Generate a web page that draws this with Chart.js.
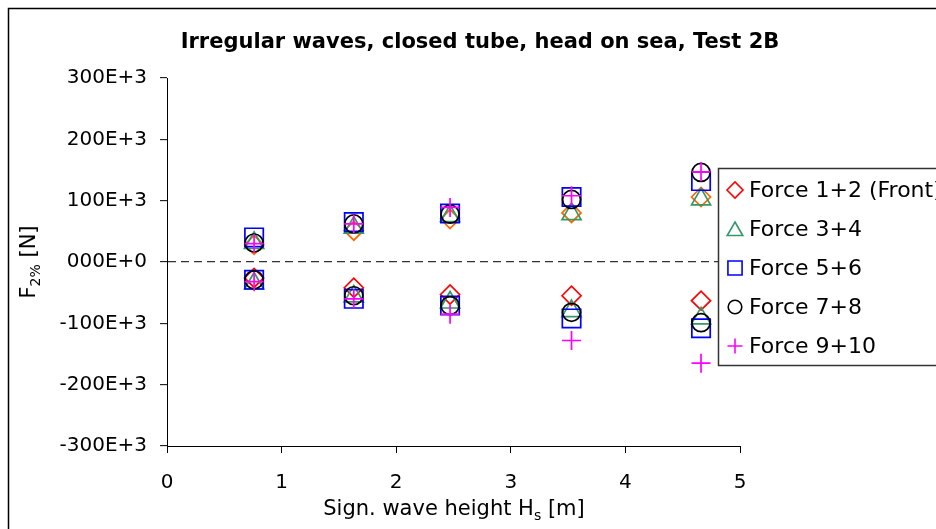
<!DOCTYPE html>
<html>
<head>
<meta charset="utf-8">
<title>Irregular waves, closed tube, head on sea, Test 2B</title>
<script src="https://cdn.jsdelivr.net/npm/chart.js@4.4.0/dist/chart.umd.min.js"></script>
<style>
  html, body { margin: 0; padding: 0; background: #fff; }
  #wrap { width: 936px; height: 529px; }
</style>
</head>
<body>
<div id="wrap"><canvas id="forceChart" width="936" height="529"></canvas></div>
<script>
// significant wave height Hs [m] of each run
var waveHeight = [0.76, 1.63, 2.47, 3.53, 4.66];

// F2% per force pair [N], upper and lower peaks
var force12Pos = [28e3, 51e3, 70e3, 80e3, 106e3];
var force12Neg = [-26e3, -42e3, -53e3, -55e3, -63e3];
var force34Pos = [31e3, 56e3, 75e3, 78e3, 102e3];
var force34Neg = [-35e3, -56e3, -66e3, -80e3, -92e3];
var force56Pos = [40e3, 65e3, 79e3, 106e3, 132e3];
var force56Neg = [-29e3, -60e3, -71e3, -92e3, -108e3];
var force78Pos = [31e3, 62e3, 78e3, 102e3, 146e3];
var force78Neg = [-29e3, -55e3, -71e3, -82e3, -99e3];
var force910Pos = [30e3, 62e3, 89e3, 108e3, 147e3];
var force910Neg = [-32e3, -60e3, -85e3, -128e3, -165e3];

var seriesNames = ['Force 1+2 (Front)', 'Force 3+4', 'Force 5+6', 'Force 7+8', 'Force 9+10'];
var yTickText = ['-300E+3', '-200E+3', '-100E+3', '000E+0', '100E+3', '200E+3', '300E+3'];

var FONT = '"DejaVu Sans", "Liberation Sans", Arial, sans-serif';

// marker look per force pair
var markers = [
    { style: 'rectRot', color: '#FF0000', upColor: '#FF6600', radius: 9.5, legendRadius: 8 },
    { style: 'triangle', color: '#339966', upColor: '#339966', radius: 11, legendRadius: 9 },
    { style: 'rect', color: '#0000FF', upColor: '#0000FF', radius: 13, legendRadius: 10 },
    { style: 'circle', color: '#000000', upColor: '#000000', radius: 9, legendRadius: 6.8 },
    { style: 'cross', color: '#FF00FF', upColor: '#FF00FF', radius: 9.5, legendRadius: 7.5 }
];

function toPoints(values) {
    return values.map(function (v, i) { return { x: waveHeight[i], y: v }; });
}

var pairs = [
    [force12Pos, force12Neg],
    [force34Pos, force34Neg],
    [force56Pos, force56Neg],
    [force78Pos, force78Neg],
    [force910Pos, force910Neg]
];

var datasets = [];
pairs.forEach(function (p, k) {
    var m = markers[k];
    [[p[0], m.upColor], [p[1], m.color]].forEach(function (s) {
        datasets.push({
            label: seriesNames[k],
            data: toPoints(s[0]),
            showLine: false,
            pointStyle: m.style,
            pointRadius: m.radius,
            pointHoverRadius: m.radius,
            pointBorderWidth: 1.7,
            pointBorderColor: s[1],
            pointBackgroundColor: 'rgba(0,0,0,0)',
            order: 10 - k
        });
    });
});

// frame, title, axis titles with subscripts and the boxed legend
var decorations = {
    id: 'decorations',
    afterDraw: function (chart) {
        var ctx = chart.ctx;
        ctx.save();

        ctx.strokeStyle = '#000';
        ctx.lineWidth = 1.5;
        ctx.strokeRect(8.5, 8.5, 1200, 1200);

        ctx.fillStyle = '#000';
        ctx.textBaseline = 'alphabetic';
        ctx.textAlign = 'center';
        ctx.font = 'bold 21px ' + FONT;
        ctx.fillText('Irregular waves, closed tube, head on sea, Test 2B', 480, 48);

        // x axis title: Sign. wave height Hs [m]
        drawSub(ctx, 'Sign. wave height H', 's', ' [m]', 454, 515, 21);

        // y axis title: F2% [N]
        ctx.save();
        ctx.translate(35, 262);
        ctx.rotate(-Math.PI / 2);
        drawSub(ctx, 'F', '2%', ' [N]', 0, 0, 21);
        ctx.restore();

        // legend box
        var lx = 718.5, ly = 168.5;
        ctx.fillStyle = '#fff';
        ctx.fillRect(lx, ly, 300, 197);
        ctx.strokeStyle = '#333';
        ctx.lineWidth = 1.5;
        ctx.strokeRect(lx, ly, 300, 197);

        ctx.font = '22px ' + FONT;
        ctx.textAlign = 'left';
        ctx.textBaseline = 'middle';
        seriesNames.forEach(function (name, i) {
            var cy = 190 + i * 39;
            var m = markers[i];
            ctx.strokeStyle = m.color;
            ctx.fillStyle = 'rgba(0,0,0,0)';
            ctx.lineWidth = 1.6;
            Chart.helpers.drawPoint(ctx, {
                pointStyle: m.style,
                radius: m.legendRadius,
                rotation: 0,
                borderWidth: 1.6
            }, 735, cy + (m.style === 'triangle' ? 2 : 0));
            ctx.fillStyle = '#000';
            ctx.fillText(name, 749, cy + 1);
        });

        ctx.restore();
    }
};

// draws text with a subscript part, centred on x
function drawSub(ctx, main, sub, tail, x, y, size) {
    var big = size + 'px ' + FONT;
    var small = Math.round(size * 0.68) + 'px ' + FONT;
    ctx.textAlign = 'left';
    ctx.textBaseline = 'alphabetic';
    ctx.fillStyle = '#000';
    ctx.font = big;
    var w1 = ctx.measureText(main).width;
    var w3 = ctx.measureText(tail).width;
    ctx.font = small;
    var w2 = ctx.measureText(sub).width;
    var left = x - (w1 + w2 + w3) / 2;
    ctx.font = big;
    ctx.fillText(main, left, y);
    ctx.font = small;
    ctx.fillText(sub, left + w1, y + size * 0.25);
    ctx.font = big;
    ctx.fillText(tail, left + w1 + w2, y);
}

var ctx = document.getElementById('forceChart').getContext('2d');
var forceChart = new Chart(ctx, {
    type: 'scatter',
    data: { datasets: datasets },
    options: {
        responsive: false,
        animation: false,
        layout: { padding: { left: 0, top: 78, right: 196, bottom: 0 } },
        plugins: {
            legend: { display: false },
            tooltip: { enabled: false }
        },
        scales: {
            x: {
                type: 'linear',
                min: 0,
                max: 5,
                afterFit: function (scale) { scale.height = 83; },
                ticks: {
                    stepSize: 1,
                    color: '#000',
                    font: { family: FONT, size: 20 },
                    padding: 18,
                    maxRotation: 0
                },
                grid: {
                    drawOnChartArea: false,
                    tickColor: '#000',
                    tickLength: 7,
                    tickWidth: 1
                },
                border: { color: '#000', width: 1 }
            },
            y: {
                min: -300e3,
                max: 300e3,
                afterFit: function (scale) { scale.width = 167; },
                ticks: {
                    stepSize: 100e3,
                    color: '#000',
                    font: { family: FONT, size: 20 },
                    padding: 13,
                    callback: function (value, index) { return yTickText[index]; }
                },
                grid: {
                    color: function (c) {
                        return c.tick && c.tick.value === 0 ? '#333' : 'rgba(0,0,0,0)';
                    },
                    lineWidth: 1.3,
                    tickColor: '#000',
                    tickLength: 7,
                    tickWidth: 1,
                    tickBorderDash: [1, 0]
                },
                border: { color: '#000', width: 1, dash: [8, 5] }
            }
        }
    },
    plugins: [decorations]
});
</script>
</body>
</html>
